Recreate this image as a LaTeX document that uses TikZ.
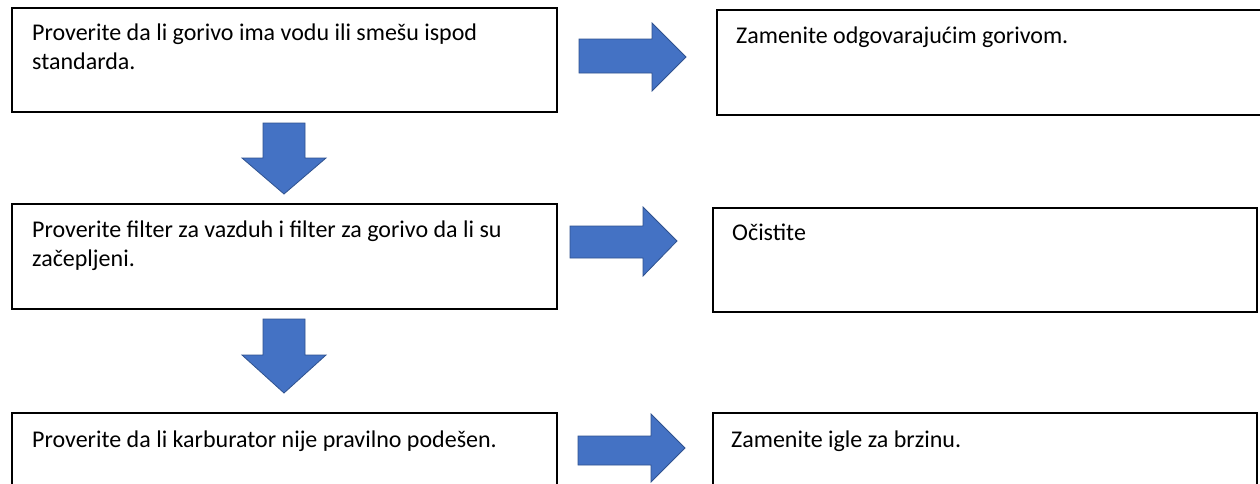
\documentclass[tikz,border=0pt]{standalone}
\usepackage{fontspec}
\setmainfont{Carlito}
\definecolor{arrowfill}{HTML}{4472C4}
\definecolor{arrowline}{HTML}{2F528F}
\begin{document}
\begin{tikzpicture}[x=1pt,y=-1pt,
  box/.style={draw=black, line width=1.6pt, fill=white, inner sep=0pt, anchor=north west},
  txt/.style={anchor=base west, inner sep=0pt, font=\fontsize{24}{29}\selectfont},
  blockarrow/.style={fill=arrowfill, draw=arrowline, line width=0.8pt, line join=miter}]
\useasboundingbox (0,0) rectangle (1260,483);
\clip (0,0) rectangle (1260,483);
\fill[white] (0,0) rectangle (1260,483);

% boxes
\node[box, minimum width=545pt, minimum height=104pt] (b1) at (11,7) {};
\node[box, minimum width=560pt, minimum height=105pt] (b2) at (716,9) {};
\node[box, minimum width=545pt, minimum height=105pt] (b3) at (11,203) {};
\node[box, minimum width=544pt, minimum height=104pt] (b4) at (712,207) {};
\node[box, minimum width=545pt, minimum height=110pt] (b5) at (11,412) {};
\node[box, minimum width=544pt, minimum height=110pt] (b6) at (712,412) {};

% texts
\node[txt] (t1a) at (32,40) {Proverite da li gorivo ima vodu ili smešu ispod};
\node[txt] (t1b) at (32,69) {standarda.};
\node[txt] (t2) at (736,43) {Zamenite odgovarajućim gorivom.};
\node[txt] (t3a) at (32,237) {Proverite filter za vazduh i filter za gorivo da li su};
\node[txt] (t3b) at (32,266) {začepljeni.};
\node[txt] (t4) at (732,240) {Očistite};
\node[txt] (t5) at (32,447) {Proverite da li karburator nije pravilno podešen.};
\node[txt] (t6) at (731,447) {Zamenite igle za brzinu.};

% right block arrows
\draw[blockarrow] (579,39) -- (652,39) -- (652,23) -- (686,57) -- (652,91) -- (652,73) -- (579,73) -- cycle;
\draw[blockarrow] (570,226) -- (643,226) -- (643,207) -- (677,241) -- (643,276) -- (643,258) -- (570,258) -- cycle;
\draw[blockarrow] (578,436) -- (651,436) -- (651,414) -- (685,448) -- (651,482) -- (651,465) -- (578,465) -- cycle;

% down block arrows
\draw[blockarrow] (263,123) -- (305,123) -- (305,158) -- (326,158) -- (284,194) -- (242,158) -- (263,158) -- cycle;
\draw[blockarrow] (263,319) -- (305,319) -- (305,355) -- (326,355) -- (284,393) -- (242,355) -- (263,355) -- cycle;
\end{tikzpicture}
\end{document}
